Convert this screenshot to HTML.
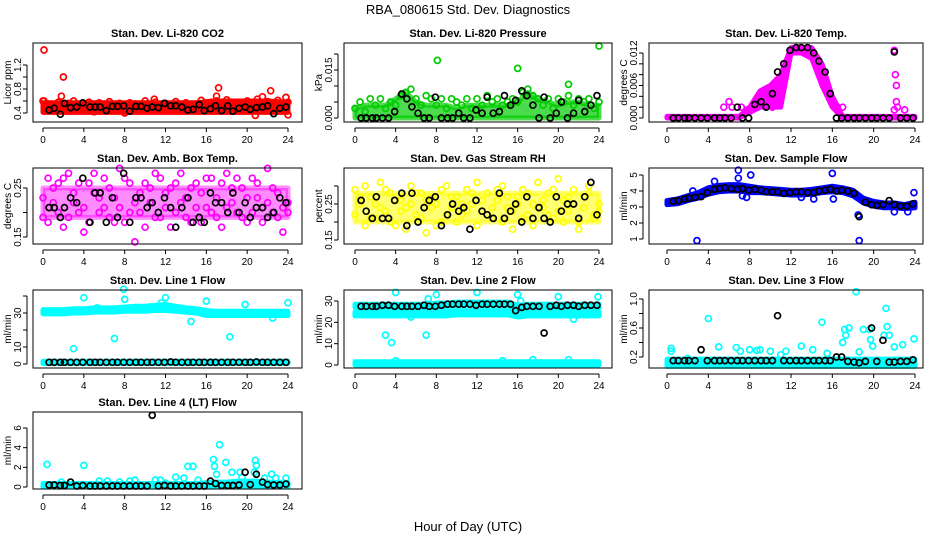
<!DOCTYPE html>
<html><head><meta charset="utf-8"><style>
html,body{margin:0;padding:0;background:#fff}
svg{display:block;font-family:"Liberation Sans",sans-serif}
</style></head><body>
<svg id="chart" width="936" height="540" viewBox="0 0 936 540">
<text x="468" y="14" text-anchor="middle" font-size="13">RBA_080615  Std. Dev. Diagnostics</text>
<text x="468" y="531" text-anchor="middle" font-size="13">Hour of Day (UTC)</text>
</svg>
<script>
const hx=[0.6,1.1,1.7,2.1,2.7,3.3,3.9,4.6,5.1,5.6,6.2,6.8,7.3,7.9,8.5,9.1,9.6,10.2,10.7,11.3,11.9,12.5,13,13.6,14.2,14.7,15.3,15.8,16.4,16.9,17.5,18.1,18.6,19.2,19.8,20.3,20.9,21.5,22,22.6,23.2,23.8];
const hours=[0,1,2,3,4,5,6,7,8,9,10,11,12,13,14,15,16,17,18,19,20,21,22,23,24];
const xTicks=[0,4,8,12,16,20,24];

const co2Lo=[0.41,0.41,0.41,0.41,0.41,0.41,0.41,0.41,0.41,0.41,0.41,0.41,0.41,0.41,0.41,0.41,0.41,0.41,0.41,0.41,0.41,0.41,0.41,0.41,0.41];
const co2Hi=[0.57,0.57,0.57,0.57,0.57,0.57,0.57,0.57,0.57,0.57,0.57,0.57,0.57,0.57,0.57,0.57,0.59,0.60,0.60,0.60,0.60,0.60,0.60,0.59,0.58];
const co2Pts=[0.60,0.55,0.52,0.58,0.45,0.56,0.60,0.50,0.55,0.58,0.42,0.57,0.53,0.59,0.48,0.56,0.40,0.57,0.55,0.52,0.60,0.47,0.58,0.54,0.56,0.51,0.59,0.45,0.57,0.53,0.55,0.61,0.49,0.58,0.60,0.46,0.62,0.55,0.58,0.50,0.60,0.57,0.63,0.52,0.59,0.56,0.61,0.48,0.58];
const co2Out=[[0.1,1.45],[2,1.0],[1.8,0.68],[10.9,0.63],[17.2,0.82],[17,0.68],[22.3,0.77],[23.8,0.66],[20.8,0.36],[24,0.37],[0.1,0.6],[21.5,0.67]];
const co2Blk=[0.45,0.48,0.38,0.56,0.49,0.50,0.57,0.50,0.50,0.50,0.44,0.51,0.51,0.52,0.43,0.51,0.51,0.48,0.50,0.49,0.56,0.52,0.52,0.50,0.45,0.46,0.54,0.44,0.47,0.52,0.44,0.52,0.43,0.48,0.50,0.46,0.49,0.50,0.52,0.39,0.48,0.50];

const presLo=[0,0,0,0,0,0,0,0,0,0,0,0,0,0,0,0,0,0,0,0,0,0,0,0,0];
const presHi=[0.003,0.004,0.004,0.004,0.006,0.008,0.005,0.004,0.004,0.004,0.003,0.004,0.004,0.004,0.004,0.004,0.005,0.008,0.006,0.005,0.004,0.005,0.005,0.004,0.004];
const presPts=[0.003,0.005,0.002,0.006,0.004,0.006,0.003,0.005,0.004,0.007,0.008,0.009,0.006,0.004,0.007,0.006,0.004,0.006,0.003,0.006,0.005,0.004,0.006,0.003,0.006,0.004,0.007,0.005,0.006,0.004,0.005,0.006,0.005,0.008,0.009,0.007,0.006,0.004,0.006,0.003,0.006,0.005,0.007,0.004,0.006,0.005,0.006,0.003,0.005];
const presOut=[[8.1,0.018],[16,0.0155],[21,0.0105],[24,0.0225]];
const presBlk=[0,0,0,0,0,0,0.002,0.0075,0.006,0.0035,0.0015,0,0,0.0065,0,0,0,0.0015,0,0,0.0025,0.0015,0.0065,0.0015,0.002,0.007,0.004,0.0055,0.0085,0.007,0.004,0,0.0065,0,0.0015,0.005,0,0.0015,0.0055,0.002,0.004,0.007];

const tempLo=[0,0,0,0,0,0,0,0,0.001,0.002,0.002,0.002,0.012,0.012,0.011,0.006,0.002,0,0,0,0,0,0,0,0];
const tempHi=[0.0003,0.0003,0.0003,0.0003,0.0003,0.0003,0.0003,0.0003,0.002,0.005,0.006,0.008,0.013,0.013,0.013,0.010,0.004,0.0003,0.0003,0.0003,0.0003,0.0003,0.0003,0.0003,0.0003];
const tempOut=[[6,0.003],[5.5,0.002],[6.3,0.002],[7.2,0.002],[7.8,0.0015],[8.8,0.002],[10.2,0.002],[16.5,0.002],[17,0.002],[22,0.0125],[22.1,0.008],[22.2,0.006],[22.2,0.003],[22.3,0.002],[22,0.0015],[23,0.0015]];
const tempBlk=[0,0,0,0,0,0,0,0,0,0,0,0.002,0,0,0.0025,0.003,0.002,0.0045,0.0085,0.010,0.0125,0.013,0.013,0.013,0.012,0.0105,0.0085,0.0045,0,0,0,0,0,0,0,0,0,0,0.0122,0,0,0];

const ambLo=[0.19,0.19,0.19,0.19,0.19,0.19,0.19,0.19,0.19,0.19,0.19,0.19,0.19,0.19,0.19,0.19,0.19,0.19,0.19,0.19,0.19,0.19,0.19,0.19,0.19];
const ambHi=[0.25,0.25,0.25,0.25,0.25,0.25,0.25,0.25,0.25,0.25,0.25,0.25,0.25,0.25,0.25,0.25,0.25,0.25,0.25,0.25,0.25,0.25,0.25,0.25,0.25];
const ambPts=[0.19,0.27,0.22,0.26,0.17,0.28,0.24,0.20,0.16,0.26,0.28,0.23,0.21,0.25,0.18,0.29,0.27,0.20,0.14,0.24,0.26,0.22,0.19,0.27,0.21,0.25,0.20,0.28,0.23,0.18,0.26,0.24,0.21,0.27,0.19,0.26,0.28,0.22,0.20,0.25,0.18,0.27,0.23,0.21,0.29,0.20,0.24,0.16,0.22];
const ambPts2=[0.23,0.18,0.25,0.20,0.27,0.19,0.22,0.26,0.21,0.18,0.24,0.20,0.27,0.19,0.23,0.21,0.18,0.26,0.22,0.20,0.17,0.25,0.28,0.19,0.24,0.17,0.26,0.22,0.19,0.25,0.21,0.18,0.27,0.20,0.23,0.17,0.21,0.25,0.27,0.19,0.23,0.20,0.26,0.18,0.22,0.25,0.19,0.21,0.20];
const ambBlk=[0.21,0.21,0.19,0.21,0.23,0.22,0.27,0.18,0.24,0.24,0.18,0.23,0.19,0.28,0.18,0.23,0.23,0.21,0.22,0.20,0.23,0.21,0.17,0.21,0.23,0.18,0.19,0.18,0.24,0.22,0.22,0.20,0.24,0.20,0.22,0.19,0.21,0.21,0.19,0.20,0.23,0.22];

const rhLo=[0.20,0.20,0.20,0.20,0.20,0.20,0.20,0.20,0.20,0.20,0.20,0.20,0.20,0.20,0.20,0.20,0.20,0.20,0.20,0.20,0.20,0.20,0.20,0.20,0.20];
const rhHi=[0.28,0.28,0.28,0.28,0.28,0.28,0.28,0.28,0.28,0.28,0.28,0.28,0.28,0.28,0.28,0.28,0.28,0.28,0.28,0.28,0.28,0.28,0.28,0.28,0.28];
const rhPts=[0.29,0.27,0.30,0.21,0.25,0.31,0.23,0.28,0.19,0.26,0.24,0.30,0.22,0.28,0.17,0.27,0.25,0.20,0.30,0.24,0.27,0.22,0.29,0.25,0.31,0.23,0.28,0.21,0.26,0.30,0.24,0.18,0.27,0.29,0.22,0.25,0.31,0.24,0.28,0.21,0.32,0.26,0.23,0.29,0.20,0.27,0.30,0.22,0.25];
const rhPts2=[0.22,0.25,0.19,0.27,0.21,0.24,0.29,0.20,0.26,0.23,0.18,0.25,0.28,0.21,0.26,0.24,0.19,0.29,0.22,0.27,0.20,0.25,0.23,0.28,0.19,0.26,0.22,0.24,0.29,0.20,0.27,0.23,0.25,0.21,0.28,0.19,0.24,0.26,0.22,0.29,0.23,0.20,0.27,0.25,0.18,0.24,0.28,0.21,0.23];
const rhBlk=[0.26,0.23,0.21,0.27,0.21,0.21,0.26,0.28,0.19,0.28,0.20,0.24,0.26,0.27,0.19,0.22,0.25,0.23,0.24,0.18,0.26,0.23,0.22,0.21,0.28,0.21,0.23,0.25,0.20,0.27,0.21,0.24,0.21,0.20,0.27,0.23,0.25,0.25,0.21,0.27,0.31,0.22];

const flowLo=[3.15,3.2,3.4,3.55,3.8,3.95,4.0,4.0,3.9,3.9,3.85,3.8,3.75,3.75,3.8,3.9,3.95,3.9,3.7,3.25,3.05,2.95,2.95,2.9,2.95];
const flowHi=[3.4,3.5,3.7,3.9,4.2,4.35,4.4,4.4,4.3,4.2,4.15,4.1,4.05,4.05,4.1,4.2,4.3,4.2,4.05,3.55,3.35,3.25,3.25,3.15,3.3];
const flowOut=[[2.9,0.9],[6.9,5.3],[6.9,4.8],[8.1,5.0],[16,5.1],[18.6,0.9],[18.5,2.5],[23.9,3.9],[4.6,4.6],[16.1,3.5],[7.3,3.7],[7.7,3.6],[13,3.6],[14.2,3.5],[22,2.7],[23.3,2.7],[2.5,4.0]];
const flowBlk=[3.35,3.4,3.5,3.55,3.6,3.65,3.9,4.1,4.15,4.2,4.15,4.1,4.15,4.05,4.1,4.05,3.95,3.95,3.95,3.85,3.9,3.95,3.95,3.9,3.9,4.0,4.05,4.1,4.0,4.05,4.0,3.85,2.4,3.3,3.15,3.1,3.15,3.4,3.15,3.05,3.05,3.2];

const l1Lo=[29.5,29.5,29.5,30,30,30.5,30.5,30.5,31,31,31,31.5,31.5,31,30.5,30,28.5,28.5,28.5,28.5,28.5,28.5,28.5,28.5,28.5];
const l1Hi=[32,32,32,32.5,32.5,33,33,33,33.5,34,34,34.5,35,34,33,32.5,31.5,31,31,31,31,31,31,31,31];
const l1bLo=[0.3,0.3,0.3,0.3,0.3,0.3,0.3,0.3,0.3,0.3,0.3,0.3,0.3,0.3,0.3,0.3,0.3,0.3,0.3,0.3,0.3,0.3,0.3,0.3,0.3];
const l1bHi=[1.6,1.6,1.6,1.6,1.6,1.6,1.6,1.6,1.6,1.6,1.6,1.6,1.6,1.6,1.6,1.6,1.6,1.6,1.6,1.6,1.6,1.6,1.6,1.6,1.6];
const l1Out=[[3,9],[7,15],[7.9,44],[8,38],[4,39],[12,39],[16,37],[18.3,16],[19.8,35],[24,36],[14.5,25],[22.5,27],[5.3,33],[11.6,36]];
const l1Blk=[1,1,1,1,1,1,1,1,1,1,1,1,1,1,1,1,1,1,1,1,1,1.2,1,1,1,1,1,1,1,1,1,1,1,1,1,1,1.2,1,1,1,1,1];

const l2aLo=[23,23,23,23,23,23,23,23,23,23,23.5,23.5,23.5,23.5,23.5,23.5,22.5,23,23,23,23,23,23,23,23];
const l2aHi=[25,25,25,25,25,25,25,25,25,25,25.5,25.5,25.5,25.5,25.5,25.5,24.5,25,25,25,25,25,25,25,25];
const l2bLo=[27,27,27,27,27,27,27,27,27.5,27.5,28,28,28,28,28,28,26.5,27,27,27,27,27,27,27,27];
const l2bHi=[28.5,28.5,28.5,28.5,28.5,28.5,28.5,28.5,29,29,29.5,29.5,29.5,29.5,29.5,29.5,28,28.5,28.5,28.5,28.5,28.5,28.5,28.5,28.5];
const l2cLo=[0,0,0,0,0,0,0,0,0,0,0,0,0,0,0,0,0,0,0,0,0,0,0,0,0];
const l2cHi=[1.5,1.5,1.5,1.5,1.5,1.5,1.5,1.5,1.5,1.5,1.5,1.5,1.5,1.5,1.5,1.5,1.5,1.5,1.5,1.5,1.5,1.5,1.5,1.5,1.5];
const l2Out=[[3,14],[3.6,10.5],[4,34],[7,14],[7.2,31],[8,33],[12,34],[16,33],[16.3,30],[20,32],[23.9,32],[21.5,21.5],[4,2],[14.5,2],[17.5,2.5],[21,2.5],[5.5,22.5]];
const l2Blk=[27.5,27.5,27.5,27.5,28,28,27.5,27.5,27.5,27.5,27.5,28,27.5,27.5,28,28.5,28.5,28.5,28.5,28.5,28,28.5,28.5,28.5,28.5,28.5,28.5,25.5,27,27.5,27.5,27.5,15,27.5,28,27.5,28,28,27.5,28,28,28];

const l3Lo=[0.07,0.07,0.07,0.07,0.07,0.07,0.07,0.07,0.07,0.07,0.07,0.07,0.07,0.07,0.07,0.07,0.07,0.07,0.07,0.07,0.07,0.07,0.07,0.07,0.07];
const l3Hi=[0.17,0.17,0.17,0.17,0.17,0.17,0.17,0.17,0.17,0.17,0.17,0.17,0.17,0.17,0.17,0.17,0.17,0.17,0.17,0.17,0.17,0.17,0.17,0.17,0.17];
const l3Out=[[0.4,0.32],[0.4,0.28],[4,0.73],[6.7,0.33],[7.1,0.28],[8,0.30],[9,0.30],[10,0.28],[11,0.23],[11.5,0.28],[13,0.35],[14.1,0.30],[15,0.68],[15.5,0.25],[17,0.4],[17.2,0.58],[17.3,0.5],[17.6,0.6],[18.3,1.1],[18.6,0.27],[19,0.58],[19.6,0.58],[19.7,0.44],[19.9,0.35],[21,0.5],[21.2,0.87],[21.3,0.62],[21.5,0.5],[22,0.34],[22.8,0.37],[23.9,0.45],[2,0.18],[5,0.34],[8.7,0.29]];
const l3Blk=[0.15,0.15,0.15,0.15,0.15,0.30,0.15,0.15,0.15,0.15,0.15,0.15,0.15,0.15,0.15,0.15,0.15,0.15,0.77,0.15,0.15,0.15,0.15,0.15,0.15,0.15,0.15,0.15,0.20,0.20,0.14,0.13,0.12,0.14,0.60,0.14,0.43,0.13,0.13,0.14,0.14,0.16];

const l4Lo=[0,0,0,0,0,0,0,0,0,0,0,0,0,0,0,0,0,0,0,0,0,0,0,0,0];
const l4Hi=[0.35,0.35,0.35,0.35,0.35,0.35,0.35,0.35,0.35,0.35,0.35,0.35,0.35,0.35,0.35,0.35,0.45,0.5,0.5,0.6,0.6,0.6,0.5,0.45,0.45];
const l4Out=[[0.4,2.3],[4,2.2],[14.2,2.1],[14.7,2.1],[16.7,2.8],[16.8,2.1],[17.3,4.3],[17,1.3],[17.9,2.5],[18.5,1.5],[19.3,1.5],[19.5,1.0],[20.8,2.7],[20.9,2.2],[20.7,1.5],[22.4,1.3],[23.8,0.9],[13,1.0],[13.8,0.9],[12,0.4],[11,0.7],[11.5,0.7],[9,0.7],[8.5,0.6],[6.3,0.6],[5.5,0.6],[7.5,0.5],[1.8,0.5],[15.2,0.7],[21.7,0.9],[22.8,0.9]];
const l4Blk=[0.2,0.2,0.15,0.15,0.5,0.1,0.15,0.1,0.1,0.1,0.1,0.1,0.1,0.1,0.1,0.1,0.1,0.1,7.3,0.1,0.15,0.1,0.1,0.1,0.1,0.1,0.1,0.1,0.6,0.35,0.15,0.15,0.15,0.2,1.5,0.25,1.3,0.5,0.25,0.2,0.2,0.3];

const NS='http://www.w3.org/2000/svg';
const svg=document.getElementById('chart');
function mk(tag,attrs,parent){const e=document.createElementNS(NS,tag);for(const k in attrs)e.setAttribute(k,attrs[k]);(parent||svg).appendChild(e);return e;}
const cols=[{l:33,r:302,x0:43,x24:288},{l:344,r:612,x0:355,x24:599},{l:649,r:923,x0:667,x24:915}];
const rows=[{t:43,b:122},{t:168,b:244},{t:290,b:368},{t:412,b:489}];

function panel(o){
  const c=cols[o.col],rw=rows[o.row];
  const g=mk('g',{});
  
  
  const X=v=>c.x0+(c.x24-c.x0)*v/24;
  const Y=v=>o.p0+(o.p1-o.p0)*(v-o.v0)/(o.v1-o.v0);
  const t=mk('text',{x:(c.l+c.r)/2,y:rw.t-6,'text-anchor':'middle','font-size':11,'font-weight':'bold'},g);
  t.textContent=o.title;
  
  
  const yl=mk('text',{transform:`translate(${c.l-22},${(rw.t+rw.b)/2}) rotate(-90)`,'text-anchor':'middle','font-size':10},g);
  yl.textContent=o.ylab;
  
  
  (o.bands||[]).forEach(b=>{
    let d='';
    hours.forEach((h,i)=>{d+=(i?'L':'M')+X(h)+','+Y(b[1][i]);});
    for(let i=hours.length-1;i>=0;i--)d+='L'+X(hours[i])+','+Y(b[0][i]);
    const p=mk('path',{d:d+'Z',fill:o.color,'fill-opacity':o.bandOp||1,stroke:o.color,'stroke-width':5,'stroke-opacity':o.bandOp||1,'stroke-linejoin':'round'},g);
    
    
  });
  const circ=(x,y,col)=>{const e=mk('circle',{cx:X(x),cy:Y(y),r:3,fill:'none',stroke:col,'stroke-width':1.7},g);
    
    };
  (o.pts||[]).forEach(arr=>arr.forEach((v,i)=>circ(i*0.5,v,o.color)));
  (o.out||[]).forEach(p=>circ(p[0],p[1],o.color));
  o.blk.forEach((v,i)=>circ(hx[i],v,'#000'));
  const box=mk('rect',{x:c.l,y:rw.t,width:c.r-c.l,height:rw.b-rw.t,fill:'none',stroke:'#000','stroke-width':1},g);
  
  
  mk('line',{x1:X(0),x2:X(24),y1:rw.b+6,y2:rw.b+6,stroke:'#000'},g);
  xTicks.forEach(v=>{mk('line',{x1:X(v),x2:X(v),y1:rw.b+6,y2:rw.b+10,stroke:'#000'},g);
    const tl=mk('text',{x:X(v),y:rw.b+21,'text-anchor':'middle','font-size':10},g);tl.textContent=v;
    
    });
  const ya=c.l-6;
  mk('line',{x1:ya,x2:ya,y1:Y(o.ticks[0]),y2:Y(o.ticks[o.ticks.length-1]),stroke:'#000'},g);
  o.ticks.forEach((v,i)=>{mk('line',{x1:ya-4,x2:ya,y1:Y(v),y2:Y(v),stroke:'#000'},g);
    if(o.labels[i]){const tl=mk('text',{transform:`translate(${ya-6},${Y(v)}) rotate(-90)`,'text-anchor':'middle','font-size':10},g);tl.textContent=o.labels[i];
      
      }});
}
panel({name:'panel-co2',col:0,row:0,title:'Stan. Dev. Li-820 CO2',ylab:'Licor ppm',color:'#ff0000',v0:0.4,p0:113,v1:1.2,p1:65,ticks:[0.4,0.6,0.8,1.0,1.2],labels:['0.4','','0.8','','1.2'],bands:[[co2Lo,co2Hi]],pts:[co2Pts],out:co2Out,blk:co2Blk});
panel({name:'panel-pressure',col:1,row:0,title:'Stan. Dev. Li-820 Pressure',ylab:'kPa',color:'#00cc00',bandOp:0.7,v0:0,p0:118,v1:0.015,p1:70,ticks:[0,0.005,0.01,0.015,0.02],labels:['0.000','','','0.015',''],bands:[[presLo,presHi]],pts:[presPts],out:presOut,blk:presBlk});
panel({name:'panel-li820-temp',col:2,row:0,title:'Stan. Dev. Li-820 Temp.',ylab:'degrees C',color:'#ff00ff',v0:0,p0:118,v1:0.012,p1:53,ticks:[0,0.002,0.004,0.006,0.008,0.01,0.012],labels:['0.000','','','0.006','','','0.012'],bands:[[tempLo,tempHi]],out:tempOut,blk:tempBlk});
panel({name:'panel-amb-box-temp',col:0,row:1,title:'Stan. Dev. Amb. Box Temp.',ylab:'degrees C',color:'#ff00ff',bandOp:0.45,v0:0.25,p0:188,v1:0.15,p1:237,ticks:[0.15,0.2,0.25],labels:['0.15','','0.25'],bands:[[ambLo,ambHi]],pts:[ambPts,ambPts2],blk:ambBlk});
panel({name:'panel-gas-rh',col:1,row:1,title:'Stan. Dev. Gas Stream RH',ylab:'percent',color:'#ffff00',bandOp:0.55,v0:0.25,p0:204,v1:0.15,p1:240,ticks:[0.15,0.2,0.25,0.3],labels:['0.15','','0.25',''],bands:[[rhLo,rhHi]],pts:[rhPts,rhPts2],blk:rhBlk});
panel({name:'panel-sample-flow',col:2,row:1,title:'Stan. Dev. Sample Flow',ylab:'ml/min',color:'#0000ff',v0:1,p0:239,v1:5,p1:175,ticks:[1,2,3,4,5],labels:['1','2','3','4','5'],bands:[[flowLo,flowHi]],out:flowOut,blk:flowBlk});
panel({name:'panel-line1-flow',col:0,row:2,title:'Stan. Dev. Line 1 Flow',ylab:'ml/min',color:'#00ffff',v0:0,p0:364,v1:30,p1:313,ticks:[0,10,20,30,40],labels:['0','10','','30',''],bands:[[l1Lo,l1Hi],[l1bLo,l1bHi]],out:l1Out,blk:l1Blk});
panel({name:'panel-line2-flow',col:1,row:2,title:'Stan. Dev. Line 2 Flow',ylab:'ml/min',color:'#00ffff',v0:0,p0:365,v1:30,p1:301,ticks:[0,10,20,30],labels:['0','10','20','30'],bands:[[l2aLo,l2aHi],[l2bLo,l2bHi],[l2cLo,l2cHi]],out:l2Out,blk:l2Blk});
panel({name:'panel-line3-flow',col:2,row:2,title:'Stan. Dev. Line 3 Flow',ylab:'ml/min',color:'#00ffff',v0:0.2,p0:357,v1:1.0,p1:299,ticks:[0.2,0.4,0.6,0.8,1.0],labels:['0.2','','0.6','','1.0'],bands:[[l3Lo,l3Hi]],out:l3Out,blk:l3Blk});
panel({name:'panel-line4-flow',col:0,row:3,title:'Stan. Dev. Line 4 (LT) Flow',ylab:'ml/min',color:'#00ffff',v0:0,p0:487,v1:6,p1:428,ticks:[0,2,4,6],labels:['0','2','4','6'],bands:[[l4Lo,l4Hi]],out:l4Out,blk:l4Blk});
</script>
</body></html>
